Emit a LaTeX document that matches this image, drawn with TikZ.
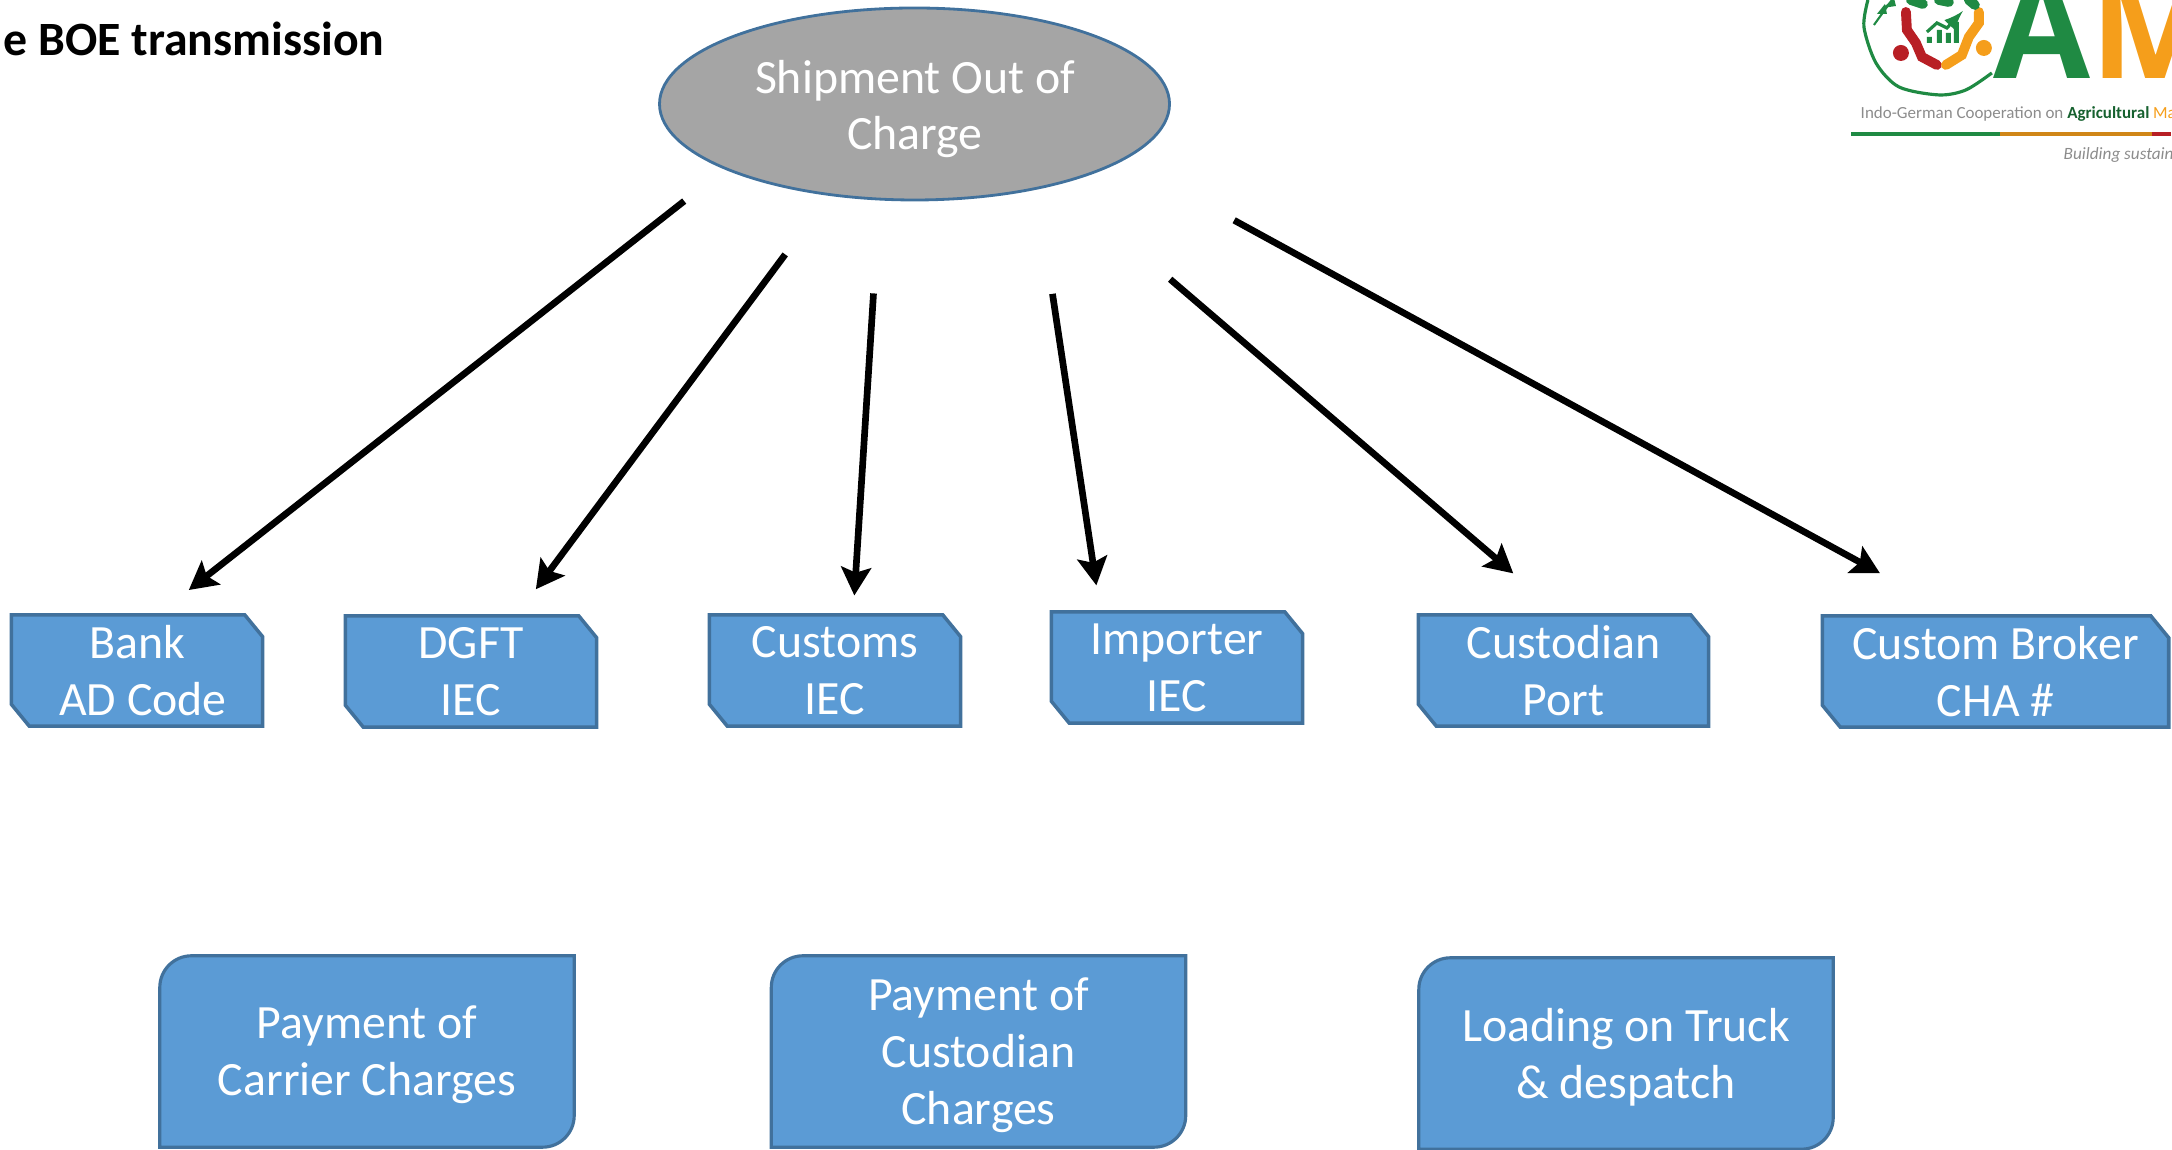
\documentclass[tikz,border=0pt]{standalone}
\usepackage{fontspec}
\setmainfont{Carlito}
\newfontfamily\logofont{Open Sans}
\usetikzlibrary{arrows.meta,shapes.geometric,backgrounds}
\definecolor{boxblue}{HTML}{5B9BD5}
\definecolor{boxline}{HTML}{41719C}
\definecolor{shipgrey}{HTML}{A5A5A5}
\definecolor{logogreen}{HTML}{1F8A43}
\definecolor{logoorange}{HTML}{F59E1B}
\definecolor{logored}{HTML}{B81F25}
\definecolor{logogrey}{HTML}{8C8C8C}
\newcommand{\diagpanel}[1]{%
	\begin{scope}[on background layer]
	\draw[fill=boxblue,draw=boxline,line width=0.9pt] ([yshift=1pt]#1.north east) -- ([shift={(9pt,1pt)}]#1.north west) arc[start angle=90,end angle=180,radius=9pt] -- ([yshift=1pt]#1.south west) -- ([shift={(-9pt,1pt)}]#1.south east) arc[start angle=270,end angle=360,radius=9pt] -- cycle;
	\end{scope}}
\newcommand{\cutpanel}[1]{%
	\begin{scope}[on background layer]
	\draw[fill=boxblue,draw=boxline,line width=1pt] ([xshift=-.18cm]#1.north east) -- (#1.north west) -- ([yshift=.22cm]#1.south west) -- ([xshift=.18cm]#1.south west) -- (#1.south east) -- ([yshift=-.22cm]#1.north east) -- cycle;
	\end{scope}}
\begin{document}
\begin{tikzpicture}
	\useasboundingbox (0,0) rectangle (21.72,11.49);
	\tikzstyle{boxtext}=[text=white,align=center,font=\fontsize{13.6}{16.2}\selectfont]
	\tikzstyle{regbox}=[boxtext,inner sep=0pt,minimum height=1.10cm]
	\tikzstyle{chargebox}=[boxtext,inner sep=0pt,minimum width=4.13cm,minimum height=1.90cm]
	\tikzstyle{estarrow}=[-{Stealth[length=8pt,width=8.5pt,inset=1.5pt]},line width=1.9pt]

	\node[font=\bfseries\fontsize{13.6}{15}\selectfont,anchor=west,inner sep=0pt] (title) at (0.03,11.10) {e BOE transmission};

	\node[ellipse,draw=boxline,fill=shipgrey,line width=0.8pt,minimum width=5.10cm,minimum height=1.92cm,inner sep=0pt] (ship) at (9.145,10.45) {};
	\node[boxtext,inner sep=0pt] (shiptext) at (9.15,10.40) {Shipment Out of\\Charge};

	\node[regbox,minimum width=2.50cm] (bank) at (1.37,4.785) {Bank\\\hspace*{.12cm}AD Code};
	\node[regbox,minimum width=2.50cm] (dgft) at (4.71,4.775) {DGFT\\IEC};
	\node[regbox,minimum width=2.50cm] (customs) at (8.35,4.785) {Customs\\IEC};
	\node[regbox,minimum width=2.50cm] (importer) at (11.77,4.815) {Importer\\IEC};
	\node[regbox,minimum width=2.89cm] (custodian) at (15.635,4.785) {Custodian\\Port};
	\node[regbox,minimum width=3.45cm] (broker) at (19.955,4.775) {Custom Broker\\CHA \#};
	\cutpanel{bank}
	\cutpanel{dgft}
	\cutpanel{customs}
	\cutpanel{importer}
	\cutpanel{custodian}
	\cutpanel{broker}

	\node[chargebox] (carrier) at (3.67,0.94) {Payment of\\Carrier Charges};
	\node[chargebox] (charges) at (9.785,0.94) {Payment of\\Custodian\\Charges};
	\node[chargebox] (truck) at (16.26,0.92) {Loading on Truck\\\& despatch};
	\diagpanel{carrier}
	\diagpanel{charges}
	\diagpanel{truck}

	\draw[estarrow,shorten <=14.6pt,shorten >=11.4pt] (ship.199.1) -- (bank.70.1);
	\draw[estarrow,shorten <=20.8pt,shorten >=9.4pt] (ship.227) -- (dgft.51.9);
	\draw[estarrow,shorten <=26.5pt,shorten >=5.5pt] (ship.250.5) -- (customs.72.6);
	\draw[estarrow,shorten <=30pt,shorten >=7.6pt] (ship.325.8) -- (importer.144.8);
	\draw[estarrow,shorten <=41.5pt,shorten >=18.1pt] (ship.331.5) -- (custodian.92.4);
	\draw[estarrow,shorten <=35.7pt,shorten >=25.3pt] (ship.345.6) -- (broker.124.8);

	% logo, cut off by the page
	\begin{scope}
	\clip (0,0) rectangle (21.72,11.49);
	\begin{scope}[shift={(0,11.49)},x=0.01cm,y=-0.01cm]
		\draw[logogreen,line width=0.9pt] plot[smooth] coordinates {(1869,0) (1865,27) (1877,63) (1900,87) (1940,95) (1967,90) (1993,73)};
		\draw[logogreen,line width=0.6pt] (1875,25) -- (1893,0);
		\fill[logogreen] (1878,14) -- (1886,4) -- (1888,14) -- cycle (1884,8) -- (1895,-2) -- (1897,6) -- cycle;
		\draw[logored,line width=2.8pt,line cap=round] (1907,12) -- (1908,30) -- (1917,43) -- (1923,57) -- (1938,65);
		\fill[logored] (1902,53) circle (8);
		\draw[logoorange,line width=2.8pt,line cap=round] (1980,12) -- (1980,23) -- (1970,37) -- (1963,55) -- (1947,65);
		\fill[logoorange] (1985,48) circle (8);
		\draw[logogreen,line width=2.8pt,line cap=round] (1912,0) -- (1924,4) (1940,0) -- (1950,2) (1970,0) -- (1976,5);
		\fill[logogreen] (1928,37) rectangle (1933,43) (1938,30) rectangle (1943,43) (1947,33) rectangle (1952,43) (1955,22) rectangle (1960,43);
		\draw[logogreen,line width=0.9pt,-latex] (1928,32) -- (1938,23) -- (1948,28) -- (1964,11);
		\fill[logogreen] (1852,132) rectangle (2001,136);
		\fill[logoorange!85!black] (2001,132) rectangle (2153,136);
		\fill[logored] (2153,132) rectangle (2172,136);
	\end{scope}
	\node[anchor=base west,inner sep=0pt,font=\logofont\bfseries\fontsize{40}{40}\selectfont] (logoam) at (19.93,10.70) {\textcolor{logogreen}{A}\textcolor{logoorange}{M}};
	\node[anchor=base west,inner sep=0pt,font=\fontsize{4.83}{5}\selectfont,text=logogrey] (partner) at (18.60,10.30) {Indo-German Cooperation on \textcolor{logogreen!70!black}{\bfseries Agricultural} \textcolor{logoorange}{Ma}};
	\node[anchor=base west,inner sep=0pt,font=\itshape\fontsize{4.9}{5}\selectfont,text=logogrey] (motto) at (20.63,9.89) {Building sustain};
	\end{scope}
\end{tikzpicture}
\end{document}
